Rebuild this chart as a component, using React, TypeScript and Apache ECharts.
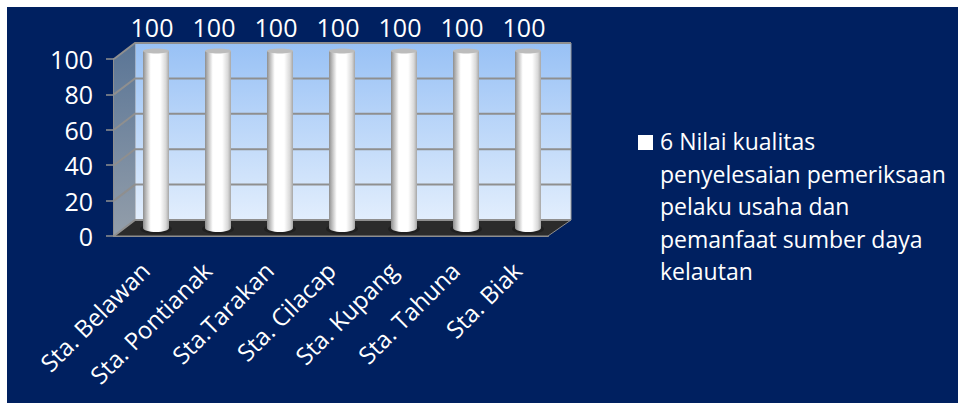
import React, { useEffect, useRef } from "react";
import * as echarts from "echarts";

const stations = ["Sta. Belawan", "Sta. Pontianak", "Sta.Tarakan", "Sta. Cilacap", "Sta. Kupang", "Sta. Tahuna", "Sta. Biak"];
const scores = [100, 100, 100, 100, 100, 100, 100];
const yTicks = [0, 20, 40, 60, 80, 100];
const seriesName = "6 Nilai kualitas\npenyelesaian pemeriksaan\npelaku usaha dan\npemanfaat sumber daya\nkelautan";

const FONT = "Open Sans";
const NAVY = "#002060";
const EDGE = "#8f8f8f";
// Depth of the box in pixels: how far the back wall sits from the front plane.
const DX = 21;
const DY = -16;

const vertical = (stops: [number, string][]) =>
  new echarts.graphic.LinearGradient(0, 0, 0, 1, stops.map(([offset, color]) => ({ offset, color })));
const horizontal = (stops: [number, string][]) =>
  new echarts.graphic.LinearGradient(0, 0, 1, 0, stops.map(([offset, color]) => ({ offset, color })));

export default function App() {
  const ref = useRef<HTMLDivElement>(null);

  useEffect(() => {
    document.body.style.margin = "0";
    document.body.style.background = "#fff";
    const chart = echarts.init(ref.current!, undefined, { renderer: "svg" });

    chart.setOption({
      animation: false,
      backgroundColor: "#ffffff",
      textStyle: { fontFamily: FONT },
      graphic: [
        { type: "rect", z: -10, shape: { x: 7, y: 7, width: 951, height: 396 }, style: { fill: NAVY } },
        { type: "rect", z: 10, shape: { x: 638, y: 135, width: 15, height: 15 }, style: { fill: "#ffffff" } },
        {
          type: "text",
          z: 10,
          x: 660,
          y: 125,
          style: { text: seriesName, fill: "#ffffff", font: `23px '${FONT}'`, lineHeight: 32.5, textVerticalAlign: "top" },
        },
      ],
      grid: { left: 114, top: 59, width: 434, height: 177, containLabel: false },
      xAxis: {
        type: "category",
        data: stations,
        axisLine: { lineStyle: { color: EDGE, width: 2 } },
        axisTick: { length: 8, lineStyle: { color: EDGE, width: 1.5 } },
        axisLabel: { color: "#fff", fontSize: 24, fontFamily: FONT, rotate: 45, interval: 0, margin: 30 },
      },
      yAxis: {
        type: "value",
        min: 0,
        max: 100,
        interval: 20,
        axisLine: { show: true, lineStyle: { color: EDGE, width: 2 } },
        axisTick: { show: true, length: 8, lineStyle: { color: EDGE, width: 1.5 } },
        axisLabel: { color: "#fff", fontSize: 25, fontFamily: FONT, margin: 21 },
        splitLine: { show: false },
      },
      series: [
        {
          // Back wall, side wall and floor of the box.
          type: "custom",
          z: 1,
          silent: true,
          data: [[0, 0]],
          renderItem: (params: any) => {
            const { x, y, width: w, height: h } = params.coordSys;
            const r = x + w, b = y + h;
            return {
              type: "group",
              children: [
                {
                  type: "rect",
                  shape: { x: x + DX, y: y + DY, width: w + 2, height: h },
                  style: { fill: vertical([[0, "#98c1f5"], [1, "#e2eefd"]]), stroke: "#9a9a9a", lineWidth: 1 },
                },
                {
                  type: "polygon",
                  shape: { points: [[x, y], [x + DX, y + DY], [x + DX, b + DY], [x, b]] },
                  style: { fill: vertical([[0, "#5a7596"], [1, "#939eaa"]]) },
                },
                {
                  type: "polygon",
                  shape: { points: [[x, b], [x + DX, b + DY], [r + DX + 2, b + DY], [r, b]] },
                  style: { fill: "#2b2b2b", stroke: "#8f8f8f", lineWidth: 1 },
                },
              ],
            };
          },
        },
        {
          // Gridlines run across the back wall and down the side wall.
          type: "custom",
          z: 2,
          silent: true,
          data: yTicks.map((t) => [0, t]),
          encode: { x: 0, y: 1 },
          renderItem: (params: any, api: any) => {
            const { x, width: w } = params.coordSys;
            const py = api.coord([0, api.value(1)])[1];
            return {
              type: "polyline",
              shape: { points: [[x, py], [x + DX, py + DY], [x + w + DX + 2, py + DY]] },
              style: { fill: "none", stroke: EDGE, lineWidth: 2 },
            };
          },
        },
        {
          name: seriesName,
          type: "custom",
          z: 3,
          data: scores.map((v, i) => [i, v]),
          encode: { x: 0, y: 1 },
          renderItem: (_params: any, api: any) => {
            const [fx, top] = api.coord([api.value(0), api.value(1)]);
            const [, base] = api.coord([api.value(0), 0]);
            const cx = fx + DX / 2 + 0.5;
            const topY = top + DY / 2;
            const baseY = base + DY / 2;
            const rx = 13;
            const body = horizontal([[0, "#8e8e8e"], [0.1, "#b5b5b5"], [0.3, "#ffffff"], [0.66, "#ffffff"], [0.88, "#d8d8d8"], [1, "#a6a6a6"]]);
            return {
              type: "group",
              children: [
                { type: "ellipse", shape: { cx, cy: baseY + 1, rx: rx + 3, ry: 5 }, style: { fill: "#151515", opacity: 0.5 } },
                { type: "ellipse", shape: { cx, cy: baseY, rx, ry: 4 }, style: { fill: body } },
                { type: "rect", shape: { x: cx - rx, y: topY, width: rx * 2, height: baseY - topY }, style: { fill: body } },
                { type: "ellipse", shape: { cx, cy: topY, rx, ry: 2.5 }, style: { fill: "#bcbcbc" } },
                {
                  type: "text",
                  x: cx - 4,
                  y: topY - 24,
                  style: { text: String(api.value(1)), fill: "#fff", font: `25px '${FONT}'`, textAlign: "center", textVerticalAlign: "middle" },
                },
              ],
            };
          },
        },
      ],
    });

    return () => chart.dispose();
  }, []);

  return <div ref={ref} style={{ width: 958, height: 403 }} />;
}
